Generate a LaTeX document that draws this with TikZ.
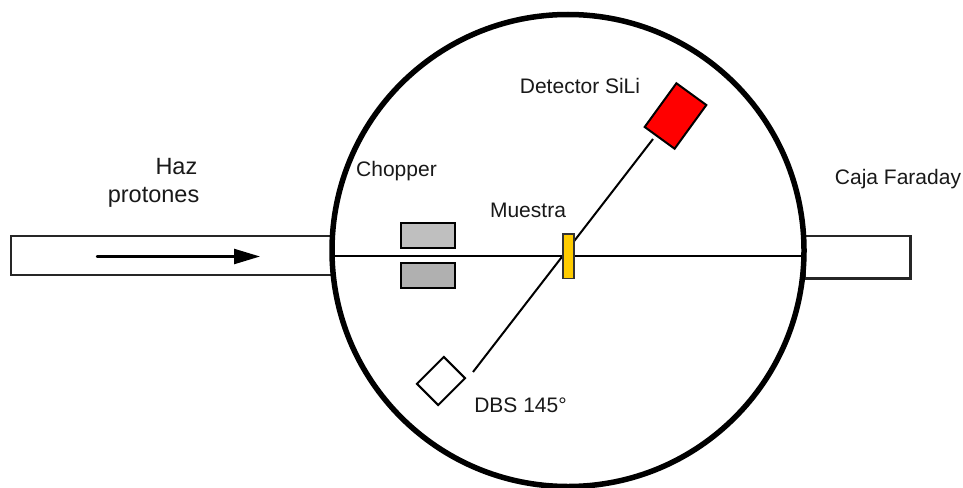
\documentclass[tikz,border=0pt]{standalone}
\usepackage{fontspec}
\setmainfont{Liberation Sans}
\usetikzlibrary{arrows.meta}
\definecolor{sampley}{RGB}{255,204,0}
\tikzset{
  x=1pt,y=-1pt,
  lbl/.style={inner sep=0pt,font=\fontsize{21pt}{29pt}\selectfont,text=black!90,align=center},
  pipe/.style={draw=black!85,line width=2.2pt,fill=white,inner sep=0pt},
  thin line/.style={draw=black,line width=2.2pt},
  chopbox/.style={draw=black,line width=2pt,minimum width=54pt,minimum height=25pt,inner sep=0pt},
  beamarrow/.style={draw=black,line width=2.4pt,line cap=round,-{Triangle[length=26pt,width=15pt]}},
}
\begin{document}
\begin{tikzpicture}
\useasboundingbox (0,0) rectangle (963,487);
\fill[white] (0,0) rectangle (963,487);
\node[pipe,minimum width=321pt,minimum height=39pt] (tubeL) at (171.5,255.5) {};
\node[pipe,minimum width=106pt,minimum height=42.5pt] (tubeR) at (857.5,257.3) {};
\coordinate (c) at (568,250.5);
\node[draw=black,line width=5.5pt,circle,minimum size=472pt,inner sep=0pt] (cam) at (c) {};
\coordinate (bL) at (334,255.7);
\coordinate (bR) at (803,255.7);
\draw[thin line] (bL) -- (bR);
\node[chopbox,fill=black!25] (ch1) at (427.7,235.2) {};
\node[chopbox,fill=black!31] (ch2) at (427.7,275) {};
\coordinate (a1) at (473,372);
\coordinate (a2) at (653,139);
\draw[thin line,line width=2pt] (a1) -- (a2);
\node[draw=black!80,line width=1.5pt,fill=sampley,minimum width=11pt,minimum height=44.5pt,inner sep=0pt] (sample) at (568.3,256.3) {};
\node[draw=black,line width=2pt,fill=red,minimum width=37pt,minimum height=54pt,inner sep=0pt,rotate=-36] (det) at (675.5,116) {};
\node[draw=black,line width=2pt,fill=white,minimum width=30pt,minimum height=38pt,inner sep=0pt,rotate=-45] (dbs) at (441,381) {};
\coordinate (b1) at (97,256.5);
\coordinate (b2) at (260,256.5);
\draw[beamarrow] (b1) -- (b2);
\node[lbl,font=\fontsize{23.5pt}{28pt}\selectfont,align=right,anchor=north east] (haz) at (199.5,158) {Haz\hspace*{2pt}\\protones};
\node[lbl] (chop) at (396.5,171) {Chopper};
\node[lbl] (mues) at (528,210) {Muestra};
\node[lbl] (detl) at (580,86) {Detector SiLi};
\node[lbl] (dbsl) at (520.5,405) {DBS 145°};
\node[lbl] (caja) at (898,179) {Caja Faraday};
\end{tikzpicture}
\end{document}
